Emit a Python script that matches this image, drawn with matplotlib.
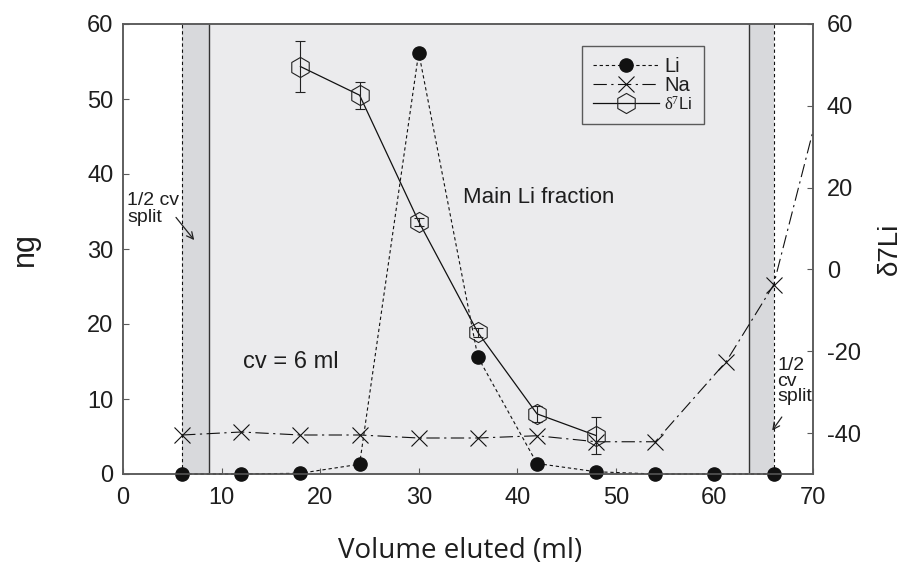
import matplotlib
matplotlib.use("Agg")
import matplotlib.pyplot as plt

plt.rcParams['font.family'] = ['Liberation Sans', 'DejaVu Sans']
plt.rcParams['mathtext.fontset'] = 'custom'
plt.rcParams['mathtext.rm'] = 'Liberation Serif'
plt.rcParams['axes.unicode_minus'] = False

# ---- data ----
li_x = [6, 12, 18, 24, 30, 36, 42, 48, 54, 60, 66]
li_ng = [0.0, 0.0, 0.1, 1.3, 56.2, 15.6, 1.4, 0.3, 0.0, 0.0, 0.0]

na_x = [6, 12, 18, 24, 30, 36, 42, 48, 54, 61.2, 66, 72]
na_ng = [5.2, 5.6, 5.2, 5.2, 4.8, 4.8, 5.1, 4.3, 4.3, 15.0, 25.2, 56.0]

d7_x = [18, 24, 30, 36, 42, 48]
d7_val = [49.6, 42.6, 11.7, -15.4, -35.3, -40.6]
d7_err = [6.3, 3.3, 1.0, 1.0, 2.0, 4.6]

cv_split_left = 6
frac_start = 8.7
frac_end = 63.5
cv_split_right = 66

xticks = [0, 10, 20, 30, 40, 50, 60, 70]
yticks_left = [0, 10, 20, 30, 40, 50, 60]
yticks_right = [-40, -20, 0, 20, 40, 60]

# ---- figure ----
fig = plt.figure(figsize=(9.09, 5.83), dpi=100)
ax = fig.add_axes([123/909, 1-474/583, 690/909, 450/583])
ax2 = ax.twinx()
ax.set_xlim(0, 70)
ax.set_ylim(0, 60)
ax2.set_ylim(-50, 60)

light = '#ebebed'
dark = '#d8d9dc'
spc = '#5a5a5a'
txtc = '#1e1e1e'

ax.axvspan(frac_start, frac_end, color=light, zorder=0, lw=0)
ax.axvspan(cv_split_left, frac_start, color=dark, zorder=0, lw=0)
ax.axvspan(frac_end, cv_split_right, color=dark, zorder=0, lw=0)
for xv in (frac_start, frac_end):
    ax.axvline(xv, color='#333333', lw=1.0, zorder=1)
for xv in (cv_split_left, cv_split_right):
    ax.axvline(xv, color='#111111', lw=0.8, ls=(0, (3, 2.5)), zorder=1)

li_line, = ax.plot(li_x, li_ng, color='#111111', lw=0.8, ls=(0, (3, 2.5)),
                   marker='o', ms=9.5, mfc='#111111', mec='#111111', zorder=4,
                   clip_on=False)
na_line, = ax.plot(na_x, na_ng, color='#111111', lw=0.8, ls=(0, (12, 4, 2, 4)),
                   marker='x', ms=12, mew=0.8, mec='#111111', zorder=3)

d7_line, = ax2.plot(d7_x, d7_val, color='#111111', lw=0.9, marker='h', ms=14.5,
                    mfc='none', mec='#222222', mew=0.8, zorder=3)
ax2.errorbar(d7_x, d7_val, yerr=d7_err, fmt='none', ecolor='#222222',
             elinewidth=0.8, capsize=3.5, capthick=0.8, zorder=3)

# ---- axes styling ----
for a in (ax, ax2):
    for s in a.spines.values():
        s.set_color(spc)
        s.set_linewidth(1.1)
ax.set_xticks(xticks)
ax.set_yticks(yticks_left)
ax2.set_yticks(yticks_right)
ax.tick_params(axis='x', direction='in', length=4, width=0.8, color=spc,
               labelsize=17, labelcolor=txtc, pad=9)
ax.tick_params(axis='y', direction='in', length=4, width=0.8, color=spc,
               labelsize=17, labelcolor=txtc, pad=7)
ax2.tick_params(axis='y', direction='in', length=4, width=0.8, color=spc,
                labelsize=17, labelcolor=txtc, pad=10)

# ---- annotations ----
ax.text(34.5, 36.9, 'Main Li fraction', fontsize=16, color=txtc, va='center', ha='left', zorder=5)
ax.text(12.2, 14.9, 'cv = 6 ml', fontsize=17, color=txtc, va='center', ha='left', zorder=5)
ax.text(0.4, 37.6, '1/2 cv\nsplit', fontsize=14, color=txtc, va='top', ha='left',
        linespacing=1.0, zorder=5)
ax.annotate('', xy=(7.4, 30.9), xytext=(5.2, 34.5),
            arrowprops=dict(arrowstyle='->', color='#222222', lw=0.9,
                            mutation_scale=12), zorder=5)
ax.text(66.35, 15.6, '1/2\ncv\nsplit', fontsize=14, color=txtc, va='top', ha='left',
        linespacing=0.9, zorder=5)
ax.annotate('', xy=(65.7, 5.5), xytext=(67.0, 7.9),
            arrowprops=dict(arrowstyle='->', color='#222222', lw=0.9,
                            mutation_scale=12), annotation_clip=False, zorder=5)

# ---- legend ----
leg = ax2.legend([li_line, na_line, d7_line], ['Li', 'Na', r'$\mathrm{\delta^{7}}$Li'],
                 loc='upper left', bbox_to_anchor=(0.665, 0.951), borderaxespad=0,
                 fancybox=False, edgecolor=spc, facecolor=light, framealpha=1,
                 fontsize=14.5, handlelength=3.3, handletextpad=0.25,
                 labelspacing=0.0, borderpad=0.55)
leg.get_frame().set_linewidth(1.0)
for t in leg.get_texts():
    t.set_color(txtc)
leg.get_texts()[2].set_fontsize(12)
leg.set_zorder(10)

# ---- axis labels ----
fig.text(460/909, 1-551/583, 'Volume eluted (ml)', fontsize=20, family='Open Sans',
         color=txtc, ha='center', va='center')
fig.text(25/909, 1-249/583, 'ng', fontsize=22, rotation=90, color=txtc,
         ha='center', va='center')
fig.text(890/909, 1-249/583, 'δ7Li', fontsize=20, rotation=90, color=txtc,
         ha='center', va='center')

fig.savefig('out.png', dpi=100)
